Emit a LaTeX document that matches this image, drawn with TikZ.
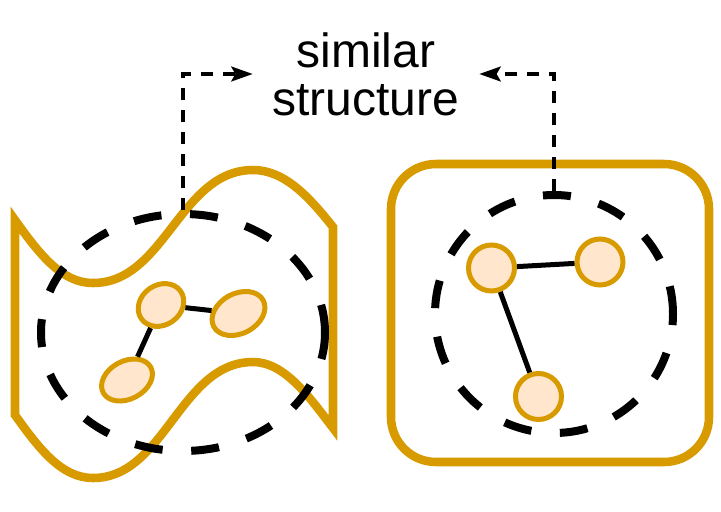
\documentclass[tikz,border=0pt]{standalone}
\usepackage{fontspec}
\setmainfont{Liberation Sans}
\usetikzlibrary{shapes.geometric,arrows.meta}
\definecolor{ostroke}{HTML}{D79B00}
\definecolor{ofill}{HTML}{FFE6CC}
\tikzset{
  outline/.style={draw=ostroke, line width=6.4pt, line join=miter},
  region/.style={draw=black, line width=6pt, dash pattern=on 21pt off 21.5pt, inner sep=0pt},
  gnode/.style={draw=ostroke, fill=ofill, line width=3.75pt, inner sep=0pt},
  gedge/.style={draw=black, line width=3.75pt},
  conn/.style={draw=black, line width=3pt, dash pattern=on 9pt off 7.5pt,
    -{Stealth[length=16pt,width=11pt,inset=3pt]}},
}
\begin{document}
\begin{tikzpicture}[x=0.75pt,y=-0.75pt]
\useasboundingbox (0,0) rectangle (721,511);
% left wavy sheet
\draw[outline] (15,220) .. controls (40,255) and (62,283) .. (93,283)
  .. controls (165,283) and (180,170) .. (253,170)
  .. controls (285,170) and (310,198) .. (333,227)
  -- (333,428)
  .. controls (310,398) and (285,362) .. (253,362)
  .. controls (180,362) and (165,478) .. (93,478)
  .. controls (62,478) and (40,450) .. (15,415) -- cycle;
% right rounded box
\node[outline, fill=white, rounded corners=33.75pt, minimum width=238.5pt, minimum height=223.5pt] (box) at (550,313) {};
% dashed regions
\node[region, ellipse, minimum width=213pt, minimum height=177.75pt] (lc) at (183,332.5) {};
\node[region, circle, minimum size=178.5pt] (rc) at (554,314) {};
% left graph
\node[gnode, ellipse, minimum width=36pt, minimum height=30pt, rotate=35] (A) at (161,305) {};
\node[gnode, ellipse, minimum width=42pt, minimum height=30pt, rotate=28] (B) at (238.5,313.5) {};
\node[gnode, ellipse, minimum width=40.5pt, minimum height=28.5pt, rotate=28] (C) at (127,380) {};
\draw[gedge] (A) -- (B);
\draw[gedge] (A) -- (C);
% right graph
\node[gnode, circle, minimum size=34.5pt] (D) at (491.5,268) {};
\node[gnode, circle, minimum size=34.5pt] (E) at (600,262) {};
\node[gnode, circle, minimum size=34.5pt] (F) at (538.5,396.5) {};
\draw[gedge] (D) -- (E);
\draw[gedge] (D) -- (F);
% label
\node[align=center, font=\fontsize{36}{36}\selectfont, inner xsep=14.7pt, inner ysep=0pt] (txt) at (366,74) {similar\\structure};
\draw[conn] (lc.north) |- (txt.west);
\draw[conn] (rc.north) |- (txt.east);
\end{tikzpicture}
\end{document}
